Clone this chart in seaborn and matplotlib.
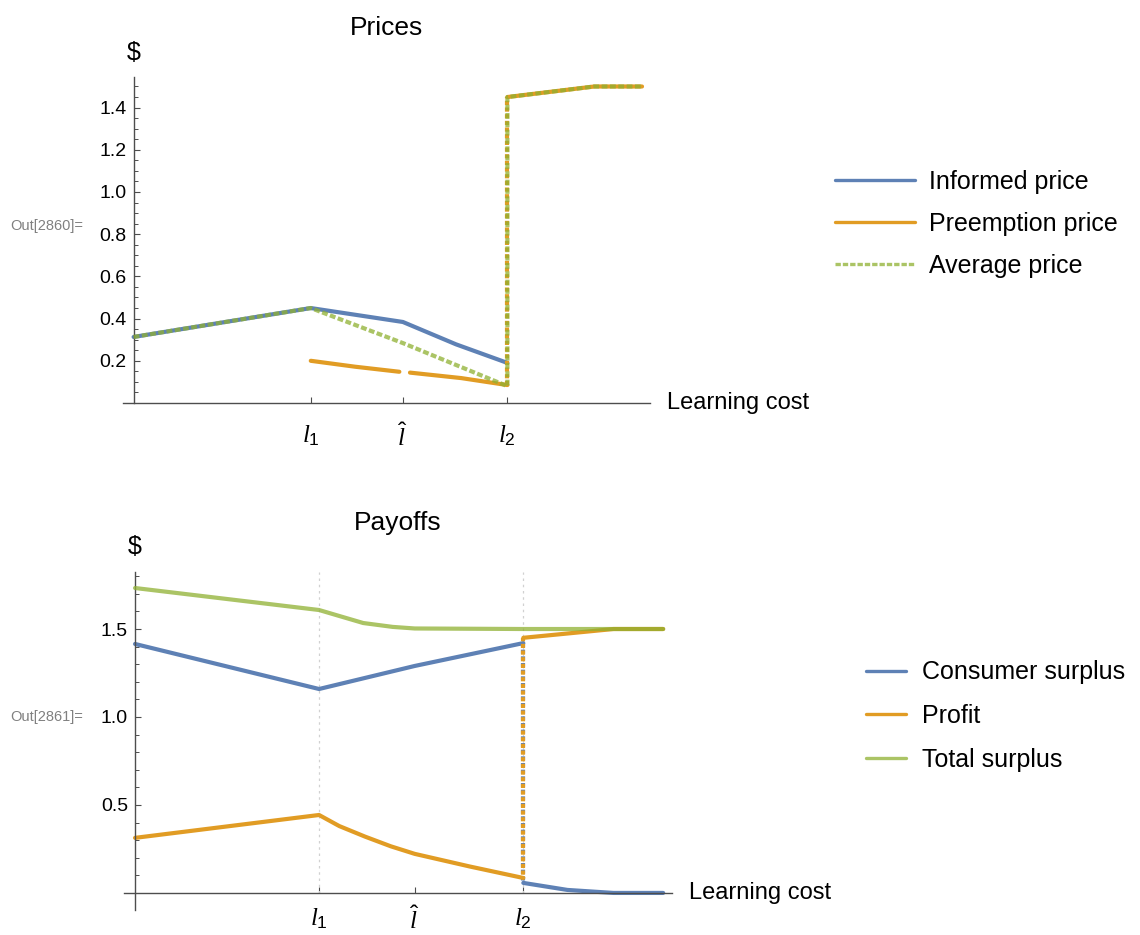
import matplotlib
matplotlib.use("Agg")
import matplotlib.pyplot as plt
from matplotlib.lines import Line2D
import seaborn as sns

# learning cost landmarks (arbitrary units)
l1, lhat, l2, x_flat, x_end = 0.100, 0.152, 0.211, 0.260, 0.287

# ---- Prices ----
inf_x = [0, l1, lhat, 0.182, l2]
inf_y = [0.313, 0.450, 0.384, 0.278, 0.190]
pre1_x = [l1, 0.125, 0.150]
pre1_y = [0.200, 0.172, 0.148]
pre2_x = [0.156, 0.185, l2]
pre2_y = [0.144, 0.118, 0.085]
pre_jump_x = [l2, l2]
pre_jump_y = [0.085, 1.450]
pre_hi_x = [l2, x_flat, x_end]
pre_hi_y = [1.450, 1.500, 1.500]
avg_x = [0, l1, lhat, l2, l2, x_flat, x_end]
avg_y = [0.313, 0.450, 0.284, 0.080, 1.450, 1.500, 1.500]

# ---- Payoffs ----
cs_x = [0, l1, lhat, l2]
cs_y = [1.415, 1.159, 1.290, 1.420]
cs_jump_x = [l2, l2]
cs_jump_y = [1.420, 0.057]
cs_lo_x = [l2, 0.235, x_flat, x_end]
cs_lo_y = [0.057, 0.017, 0.0, 0.0]
pr_x = [0, l1, 0.111, 0.125, 0.139, lhat, 0.182, l2]
pr_y = [0.313, 0.443, 0.380, 0.320, 0.265, 0.222, 0.150, 0.085]
pr_jump_x = [l2, l2]
pr_jump_y = [0.085, 1.450]
pr_hi_x = [l2, x_flat, x_end]
pr_hi_y = [1.450, 1.500, 1.500]
ts_x = [0, l1, 0.111, 0.124, 0.140, lhat, l2, x_end]
ts_y = [1.733, 1.608, 1.574, 1.534, 1.512, 1.503, 1.500, 1.500]

tick_pos = [l1, lhat, l2]
tick_lab = [r"$l_1$", r"$\hat{l}$", r"$l_2$"]

BLUE, ORANGE, GREEN = "#5E81B5", "#E19C24", "#8FB032"
AXC = "0.3"

sns.set_theme(style="white")
plt.rcParams["font.family"] = ["Liberation Sans", "DejaVu Sans"]
plt.rcParams["mathtext.fontset"] = "custom"
plt.rcParams["mathtext.it"] = "Liberation Serif:italic"
plt.rcParams["mathtext.rm"] = "Liberation Sans"
plt.rcParams["text.color"] = "black"
plt.rcParams["axes.titlecolor"] = "black"

fig = plt.figure(figsize=(11.4, 9.35), dpi=100)
ax1 = fig.add_axes([123 / 1140, 1 - 403 / 935, 527 / 1140, 326 / 935])
ax2 = fig.add_axes([124 / 1140, 1 - 910 / 935, 548 / 1140, 338 / 935])

DASH = (0, (1.4, 0.6))
VDASH = (0, (1.0, 0.6))


def line(ax, x, y, color, ls="-", alpha=1.0, z=2):
    sns.lineplot(x=x, y=y, ax=ax, color=color, lw=3, sort=False,
                 estimator=None, linestyle=ls, alpha=alpha, zorder=z)


def style_axes(ax, ylim, major, minor, xpad):
    ax.set_ylim(*ylim)
    for s in ["top", "right"]:
        ax.spines[s].set_visible(False)
    ax.spines["left"].set_position(("data", 0))
    ax.spines["bottom"].set_position(("data", 0))
    for s in ["left", "bottom"]:
        ax.spines[s].set_color(AXC)
        ax.spines[s].set_linewidth(1.0)
    ax.set_yticks(major)
    ax.set_yticks(minor, minor=True)
    ax.set_yticklabels([f"{v:.1f}" for v in major])
    ax.set_xticks(tick_pos)
    ax.set_xticklabels(tick_lab)
    ax.tick_params(axis="y", which="major", direction="in", length=4.5,
                   width=0.8, color=AXC, labelcolor="black", labelsize=14,
                   pad=5, left=True)
    ax.tick_params(axis="y", which="minor", direction="in", length=2.8,
                   width=0.7, color=AXC, left=True)
    ax.tick_params(axis="x", direction="in", length=4.5, width=0.8,
                   color=AXC, labelcolor="black", labelsize=18, pad=xpad,
                   bottom=True)
    ax.set_xlabel("")
    ax.set_ylabel("")
    ax.annotate("$", xy=(0, 1), xycoords=("data", "axes fraction"),
                xytext=(0, 9), textcoords="offset points", ha="center",
                va="bottom", fontsize=18)
    ax.annotate("Learning cost", xy=(1, 0), xycoords=("axes fraction", "data"),
                xytext=(12, 0), textcoords="offset points", ha="left",
                va="center", fontsize=17)


# Prices panel
line(ax1, inf_x, inf_y, BLUE)
line(ax1, pre1_x, pre1_y, ORANGE)
line(ax1, pre2_x, pre2_y, ORANGE)
line(ax1, pre_jump_x, pre_jump_y, ORANGE, ls=VDASH)
line(ax1, pre_hi_x, pre_hi_y, ORANGE)
line(ax1, avg_x, avg_y, GREEN, ls=DASH, alpha=0.75, z=3)
ax1.set_xlim(-0.006, 0.2915)
style_axes(ax1, (0, 1.545), [0.2, 0.4, 0.6, 0.8, 1.0, 1.2, 1.4],
           [i * 0.05 for i in range(1, 31)], 15)
ax1.set_title("Prices", fontsize=19, pad=30)

# Payoffs panel
for xv in [l1, l2]:
    ax2.plot([xv, xv], [0, 1.824], color="0.82", lw=0.9, ls=(0, (2, 3)), zorder=1)
line(ax2, cs_x, cs_y, BLUE)
line(ax2, cs_jump_x, cs_jump_y, BLUE, ls=VDASH)
line(ax2, cs_lo_x, cs_lo_y, BLUE)
line(ax2, pr_x, pr_y, ORANGE)
line(ax2, pr_jump_x, pr_jump_y, ORANGE, ls=(0.8, (1.0, 0.6)))
line(ax2, pr_hi_x, pr_hi_y, ORANGE)
line(ax2, ts_x, ts_y, GREEN, alpha=0.75, z=3)
ax2.set_xlim(-0.006, 0.2918)
style_axes(ax2, (-0.097, 1.824), [0.5, 1.0, 1.5],
           [i * 0.1 for i in range(1, 19)], 10)
ax2.set_title("Payoffs", fontsize=19, pad=30)

# legends
h1 = [Line2D([], [], color=BLUE, lw=2.4),
      Line2D([], [], color=ORANGE, lw=2.4),
      Line2D([], [], color=GREEN, lw=2.4, alpha=0.75, ls=(0, (1.6, 0.6)))]
fig.legend(h1, ["Informed price", "Preemption price", "Average price"],
           loc="center left", bbox_to_anchor=(835 / 1140, 1 - 224 / 935),
           frameon=False, fontsize=18, handlelength=3.2, handletextpad=0.55,
           labelspacing=0.72, borderpad=0, borderaxespad=0)
h2 = [Line2D([], [], color=BLUE, lw=2.4),
      Line2D([], [], color=ORANGE, lw=2.4),
      Line2D([], [], color=GREEN, lw=2.4, alpha=0.75)]
fig.legend(h2, ["Consumer surplus", "Profit", "Total surplus"],
           loc="center left", bbox_to_anchor=(866 / 1140, 1 - 716 / 935),
           frameon=False, fontsize=18, handlelength=1.6, handletextpad=0.65,
           labelspacing=0.78, borderpad=0, borderaxespad=0)

fig.text(10 / 1140, 1 - 226 / 935, "Out[2860]=", color="0.5", fontsize=10.5,
         va="center", ha="left")
fig.text(10 / 1140, 1 - 717 / 935, "Out[2861]=", color="0.5", fontsize=10.5,
         va="center", ha="left")

fig.savefig("out.png", dpi=100)
